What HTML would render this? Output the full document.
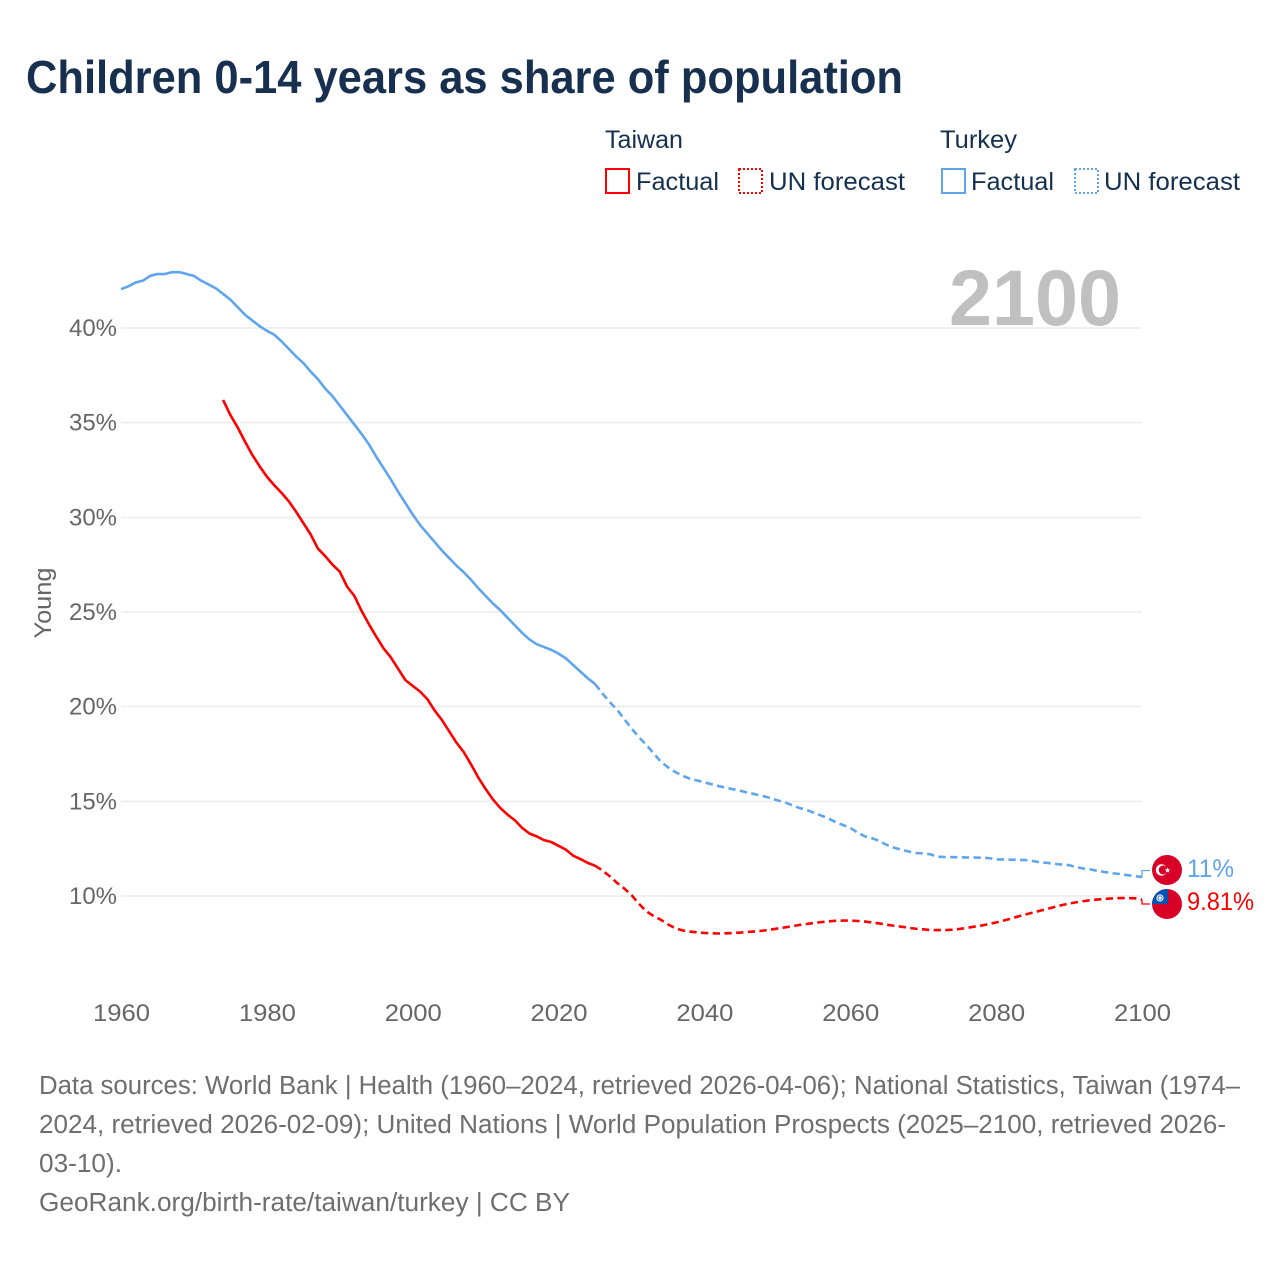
<!DOCTYPE html>
<html lang="en">
<head>
<meta charset="utf-8">
<title>Children 0-14 years as share of population</title>
<style>
html,body{margin:0;padding:0;background:#fff;}
svg{display:block;font-family:"Liberation Sans",sans-serif;}
</style>
</head>
<body>
<svg id="chart" xmlns="http://www.w3.org/2000/svg" width="1280" height="1280" viewBox="0 0 1280 1280">
  <rect width="1280" height="1280" fill="#fff"/>
  <text x="26" y="93" font-size="46" font-weight="700" fill="#18304f" textLength="877" lengthAdjust="spacingAndGlyphs">Children 0-14 years as share of population</text>

  <g font-size="25" fill="#14304f">
    <text x="605" y="148" textLength="78" lengthAdjust="spacingAndGlyphs">Taiwan</text>
    <text x="940" y="148" textLength="77" lengthAdjust="spacingAndGlyphs">Turkey</text>
    <g>
      <rect x="606" y="169" width="23" height="24" fill="none" stroke="#ff0000" stroke-width="2"/>
      <text x="636" y="190" textLength="83" lengthAdjust="spacingAndGlyphs">Factual</text>
    </g>
    <g>
      <rect x="739" y="169" width="23" height="24" fill="none" stroke="#ff0000" stroke-width="2" stroke-dasharray="2 2"/>
      <text x="769" y="190" textLength="136" lengthAdjust="spacingAndGlyphs">UN forecast</text>
    </g>
    <g>
      <rect x="942" y="169" width="23" height="24" fill="none" stroke="#5fa5ee" stroke-width="2"/>
      <text x="971" y="190" textLength="83" lengthAdjust="spacingAndGlyphs">Factual</text>
    </g>
    <g>
      <rect x="1075" y="169" width="23" height="24" fill="none" stroke="#5fa5ee" stroke-width="2" stroke-dasharray="2 2"/>
      <text x="1104" y="190" textLength="136" lengthAdjust="spacingAndGlyphs">UN forecast</text>
    </g>
  </g>

  <g id="grid"></g>
  <text x="949" y="325" font-size="79" font-weight="700" fill="#c0c0c0" textLength="172" lengthAdjust="spacingAndGlyphs">2100</text>
  <g id="y-ticks"></g>
  <g id="x-ticks"></g>
  <text transform="translate(51,603) rotate(-90)" text-anchor="middle" font-size="24" fill="#666" textLength="71" lengthAdjust="spacingAndGlyphs">Young</text>
  <g id="series"></g>

  <g id="end-markers">
    <defs>
      <clipPath id="taiwan-clip"><circle id="taiwan-clip-circle" cx="1167" cy="904" r="15"/></clipPath>
    </defs>
    <g id="flag-taiwan">
      <circle cx="1167" cy="904" r="15" fill="#d80027"/>
      <rect x="1150" y="888" width="18" height="16" fill="#0052b4" clip-path="url(#taiwan-clip)"/>
      <circle cx="1160" cy="898" r="3.6" fill="#fff"/>
      <circle cx="1160" cy="898" r="2.5" fill="#0052b4"/>
      <circle cx="1160" cy="898" r="1.7" fill="#fff"/>
    </g>
    <g id="flag-turkey">
      <circle cx="1167" cy="870" r="15" fill="#d80027"/>
      <circle cx="1161.5" cy="870" r="5.7" fill="#fff"/>
      <circle cx="1163.2" cy="870" r="4.5" fill="#d80027"/>
      <polygon points="1167.5,867.5 1168.3,869.3 1170.3,869.4 1168.8,870.7 1169.3,872.6 1167.5,871.6 1165.8,872.6 1166.3,870.7 1164.8,869.4 1166.7,869.3" fill="#fff"/>
    </g>
  </g>

  <g font-size="25.5" fill="#6e6e6e">
    <text x="39" y="1094" textLength="1201" lengthAdjust="spacingAndGlyphs">Data sources: World Bank | Health (1960–2024, retrieved 2026-04-06); National Statistics, Taiwan (1974–</text>
    <text x="39" y="1133" textLength="1187" lengthAdjust="spacingAndGlyphs">2024, retrieved 2026-02-09); United Nations | World Population Prospects (2025–2100, retrieved 2026-</text>
    <text x="39" y="1172" textLength="83" lengthAdjust="spacingAndGlyphs">03-10).</text>
    <text x="39" y="1211" textLength="531" lengthAdjust="spacingAndGlyphs">GeoRank.org/birth-rate/taiwan/turkey | CC BY</text>
  </g>
</svg>

<script>
const xTicks = [1960, 1980, 2000, 2020, 2040, 2060, 2080, 2100];
const yTicks = [10, 15, 20, 25, 30, 35, 40];

const turkeyFactualStart = 1960;
const turkeyFactual = [42.05,42.2,42.4,42.5,42.75,42.85,42.85,42.95,42.95,42.85,42.75,42.5,42.3,42.1,41.8,41.5,41.1,40.7,40.4,40.1,39.85,39.65,39.3,38.9,38.5,38.15,37.7,37.3,36.8,36.4,35.9,35.4,34.9,34.4,33.85,33.2,32.6,32.0,31.35,30.75,30.15,29.6,29.15,28.7,28.25,27.85,27.45,27.1,26.7,26.25,25.85,25.45,25.1,24.7,24.3,23.9,23.55,23.3,23.15,23.0,22.8,22.55,22.2,21.85,21.5,21.2];

const turkeyForecastStart = 2025;
const turkeyForecast = [21.2,20.7,20.25,19.85,19.35,18.85,18.4,18.0,17.55,17.1,16.8,16.55,16.35,16.2,16.1,16.0,15.9,15.8,15.72,15.63,15.55,15.45,15.37,15.28,15.18,15.05,14.95,14.8,14.65,14.55,14.4,14.25,14.1,13.9,13.75,13.6,13.35,13.15,13.05,12.9,12.7,12.55,12.45,12.35,12.27,12.25,12.2,12.07,12.06,12.05,12.05,12.03,12.03,12.02,12.0,11.93,11.93,11.92,11.91,11.9,11.85,11.78,11.75,11.7,11.66,11.63,11.52,11.45,11.4,11.32,11.26,11.2,11.16,11.1,11.05,11.0];

const taiwanFactualStart = 1974;
const taiwanFactual = [36.2,35.4,34.75,34.0,33.3,32.7,32.15,31.7,31.3,30.85,30.3,29.7,29.1,28.35,27.95,27.5,27.13,26.34,25.85,25.05,24.35,23.7,23.08,22.6,22.0,21.4,21.1,20.8,20.4,19.8,19.3,18.7,18.1,17.6,16.95,16.25,15.65,15.1,14.65,14.3,14.0,13.6,13.3,13.15,12.95,12.85,12.65,12.45,12.13,11.95,11.75,11.6];

const taiwanForecastStart = 2025;
const taiwanForecast = [11.6,11.35,11.05,10.7,10.4,10.05,9.6,9.2,8.95,8.75,8.5,8.3,8.18,8.12,8.08,8.05,8.03,8.02,8.03,8.05,8.07,8.1,8.13,8.17,8.22,8.28,8.34,8.4,8.47,8.52,8.58,8.62,8.66,8.69,8.7,8.7,8.68,8.65,8.6,8.55,8.48,8.43,8.38,8.32,8.27,8.24,8.2,8.2,8.2,8.22,8.26,8.32,8.38,8.44,8.52,8.6,8.7,8.8,8.92,9.02,9.12,9.22,9.32,9.42,9.52,9.6,9.67,9.73,9.78,9.82,9.85,9.87,9.89,9.89,9.88,9.81];

const turkeyLatestLabel = "11%";
const taiwanLatestLabel = "9.81%";

const NS = "http://www.w3.org/2000/svg";
const BLUE = "#5fa5ee";
const RED = "#ff0000";

function xScale(year) { return 121 + (year - 1960) * (1142 - 121) / 140; }
function yScale(v) { return 896 - (v - 10) * (896 - 328) / 30; }

function make(tag, attrs, parent, text) {
  const el = document.createElementNS(NS, tag);
  for (const k in attrs) el.setAttribute(k, attrs[k]);
  if (text !== undefined) el.textContent = text;
  parent.appendChild(el);
  return el;
}

const gridG = document.getElementById("grid");
const yTickG = document.getElementById("y-ticks");
const xTickG = document.getElementById("x-ticks");
const seriesG = document.getElementById("series");
const markerG = document.getElementById("end-markers");

yTicks.forEach(function (t) {
  const line = make("line", { x1: 121, x2: 1142, y1: yScale(t), y2: yScale(t), stroke: "#ececec", "stroke-width": 1.5 }, gridG);
  
  
  const label = make("text", { x: 117, y: yScale(t) + 8, "text-anchor": "end", "font-size": 24, fill: "#666", textLength: 48, lengthAdjust: "spacingAndGlyphs" }, yTickG, t + "%");
  
  
});

xTicks.forEach(function (t) {
  const label = make("text", { x: xScale(t) + 0.5, y: 1021, "text-anchor": "middle", "font-size": 24, fill: "#666", textLength: 57, lengthAdjust: "spacingAndGlyphs" }, xTickG, String(t));
  
  
});

function linePath(start, values) {
  return values.map(function (v, i) {
    return (i ? "L" : "M") + xScale(start + i).toFixed(2) + " " + yScale(v).toFixed(2);
  }).join("");
}

function addSeries(start, values, color, dash) {
  const attrs = { d: linePath(start, values), fill: "none", stroke: color, "stroke-width": 2.6, "stroke-linejoin": "round" };
  if (dash) attrs["stroke-dasharray"] = "7.3 4.4";
  return make("path", attrs, seriesG);
}

const turkeyFactualLine = addSeries(turkeyFactualStart, turkeyFactual, BLUE, false);


const turkeyForecastLine = addSeries(turkeyForecastStart, turkeyForecast, BLUE, true);


const taiwanFactualLine = addSeries(taiwanFactualStart, taiwanFactual, RED, false);


const taiwanForecastLine = addSeries(taiwanForecastStart, taiwanForecast, RED, true);



const turkeyEndY = yScale(turkeyForecast[turkeyForecast.length - 1]);
const taiwanEndY = yScale(taiwanForecast[taiwanForecast.length - 1]);
const endX = xScale(2100);

const turkeyConnector = make("path", { d: "M" + endX + " " + turkeyEndY + "V870.5H1150", fill: "none", stroke: BLUE, "stroke-width": 1.3 }, markerG);


const taiwanConnector = make("path", { d: "M" + endX + " " + taiwanEndY + "V904H1150", fill: "none", stroke: RED, "stroke-width": 1.3 }, markerG);



const turkeyValue = make("text", { x: 1187, y: 877, "font-size": 25, fill: BLUE, textLength: 47, lengthAdjust: "spacingAndGlyphs" }, markerG, turkeyLatestLabel);


const taiwanValue = make("text", { x: 1187, y: 910, "font-size": 25, fill: RED, textLength: 67, lengthAdjust: "spacingAndGlyphs" }, markerG, taiwanLatestLabel);


</script>
</body>
</html>
